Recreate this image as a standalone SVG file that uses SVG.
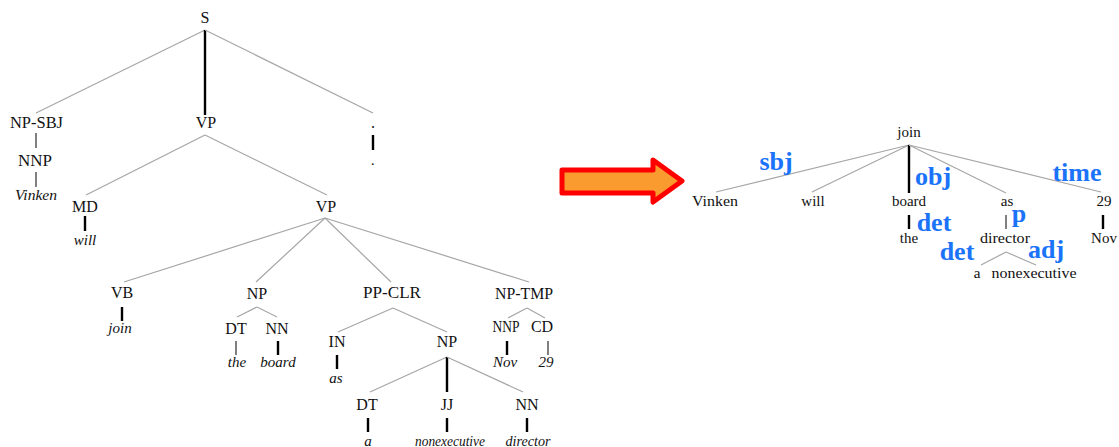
<svg xmlns="http://www.w3.org/2000/svg" width="1119" height="447" viewBox="0 0 1119 447">
<style>
text{font-family:"Liberation Serif","Times New Roman",serif;fill:#111;text-anchor:middle}
.c{font-size:16px}
.w{font-size:15px;font-style:italic}
.r{font-size:15px}
.rel{font-size:26px;font-weight:bold;fill:#1a73f8}
.d{stroke:#a6a6a6;stroke-width:1.2;fill:none}
.t{stroke:#000;stroke-width:2.4}
.n{stroke:#000;stroke-width:1}
</style>
<rect width="1119" height="447" fill="#fff"/>
<g id="connectors">
<!-- left tree -->
<line class="d" x1="205" y1="30" x2="36" y2="113"/>
<line class="t" x1="205" y1="30" x2="205" y2="115"/>
<line class="d" x1="205" y1="30" x2="373" y2="113"/>
<line class="t" x1="373" y1="135" x2="373" y2="150"/>
<line class="n" x1="36" y1="133" x2="36" y2="148"/>
<line class="n" x1="36" y1="172" x2="36" y2="187"/>
<line class="d" x1="205" y1="135" x2="86" y2="195"/>
<line class="d" x1="205" y1="135" x2="327" y2="195"/>
<line class="t" x1="85" y1="216" x2="85" y2="231"/>
<line class="d" x1="325" y1="218" x2="124" y2="282"/>
<line class="d" x1="325" y1="218" x2="256" y2="282"/>
<line class="d" x1="325" y1="218" x2="391" y2="282"/>
<line class="d" x1="325" y1="218" x2="529" y2="282"/>
<line class="t" x1="122" y1="307" x2="122" y2="321"/>
<line class="d" x1="257" y1="307" x2="237" y2="317"/>
<line class="d" x1="257" y1="307" x2="277" y2="317"/>
<line class="n" x1="236" y1="341" x2="236" y2="355"/>
<line class="t" x1="278" y1="341" x2="278" y2="355"/>
<line class="d" x1="393" y1="308" x2="338" y2="332"/>
<line class="d" x1="393" y1="308" x2="447" y2="332"/>
<line class="t" x1="337" y1="355" x2="337" y2="369"/>
<line class="d" x1="447" y1="357" x2="370" y2="392"/>
<line class="t" x1="447" y1="357" x2="447" y2="392"/>
<line class="d" x1="447" y1="357" x2="523" y2="392"/>
<line class="t" x1="368" y1="418" x2="368" y2="432"/>
<line class="t" x1="447" y1="418" x2="447" y2="432"/>
<line class="t" x1="527" y1="418" x2="527" y2="432"/>
<line class="d" x1="527" y1="308" x2="508" y2="318"/>
<line class="d" x1="527" y1="308" x2="545" y2="318"/>
<line class="t" x1="507" y1="341" x2="507" y2="355"/>
<line class="n" x1="548" y1="341" x2="548" y2="355"/>
<!-- right tree -->
<line class="d" x1="909" y1="145" x2="716" y2="192"/>
<line class="d" x1="909" y1="145" x2="812" y2="192"/>
<line class="t" x1="909" y1="145" x2="909" y2="193"/>
<line class="d" x1="909" y1="145" x2="1006" y2="193"/>
<line class="d" x1="909" y1="145" x2="1101" y2="192"/>
<line class="t" x1="909" y1="215" x2="909" y2="229"/>
<line class="n" x1="1006" y1="215" x2="1006" y2="229"/>
<line class="t" x1="1103" y1="215" x2="1103" y2="229"/>
<line class="d" x1="1006" y1="252" x2="981" y2="265"/>
<line class="d" x1="1006" y1="252" x2="1036" y2="265"/>
</g>
<g id="arrow">
<polygon points="562,170 653,170 653,160 682,181 653,202 653,193 562,193" fill="#f99b2f" stroke="#ff0000" stroke-width="5" stroke-linejoin="round"/>
</g>
<!-- left tree nodes -->
<g id="S"><text class="c" x="205" y="23">S</text></g>
<g id="NP-SBJ"><text class="c" x="36.5" y="128" textLength="53" lengthAdjust="spacingAndGlyphs">NP-SBJ</text></g>
<g id="VP1"><text class="c" x="206" y="128">VP</text></g>
<g id="PUNCT"><text class="c" x="373" y="128">.</text></g>
<g id="PUNCT-leaf"><text class="w" x="373" y="165">.</text></g>
<g id="NNP1"><text class="c" x="35" y="166" textLength="34" lengthAdjust="spacingAndGlyphs">NNP</text></g>
<g id="Vinken1"><text class="w" x="36" y="200" textLength="42" lengthAdjust="spacingAndGlyphs">Vinken</text></g>
<g id="MD"><text class="c" x="85" y="212">MD</text></g>
<g id="will1"><text class="w" x="85" y="245">will</text></g>
<g id="VP2"><text class="c" x="326" y="212">VP</text></g>
<g id="VB"><text class="c" x="122" y="298">VB</text></g>
<g id="join1"><text class="w" x="120" y="333">join</text></g>
<g id="NP1"><text class="c" x="257" y="299">NP</text></g>
<g id="DT1"><text class="c" x="236" y="334">DT</text></g>
<g id="NN1"><text class="c" x="277" y="334">NN</text></g>
<g id="the1"><text class="w" x="237" y="367">the</text></g>
<g id="board1"><text class="w" x="278" y="367">board</text></g>
<g id="PP-CLR"><text class="c" x="392" y="298" textLength="58" lengthAdjust="spacingAndGlyphs">PP-CLR</text></g>
<g id="IN"><text class="c" x="337" y="347">IN</text></g>
<g id="as1"><text class="w" x="336" y="383">as</text></g>
<g id="NP2"><text class="c" x="447" y="347">NP</text></g>
<g id="DT2"><text class="c" x="367" y="410">DT</text></g>
<g id="JJ"><text class="c" x="447" y="410">JJ</text></g>
<g id="NN2"><text class="c" x="527" y="410">NN</text></g>
<g id="a1"><text class="w" x="368" y="446">a</text></g>
<g id="nonexecutive1"><text class="w" x="450" y="446" textLength="70" lengthAdjust="spacingAndGlyphs">nonexecutive</text></g>
<g id="director1"><text class="w" x="528" y="446" textLength="45" lengthAdjust="spacingAndGlyphs">director</text></g>
<g id="NP-TMP"><text class="c" x="524" y="299" textLength="58" lengthAdjust="spacingAndGlyphs">NP-TMP</text></g>
<g id="NNP2"><text class="c" x="506" y="332" textLength="27" lengthAdjust="spacingAndGlyphs">NNP</text></g>
<g id="CD"><text class="c" x="542" y="332">CD</text></g>
<g id="Nov1"><text class="w" x="505" y="367">Nov</text></g>
<g id="n29a"><text class="w" x="546" y="367">29</text></g>
<!-- right tree nodes -->
<g id="join2"><text class="r" x="909" y="137">join</text></g>
<g id="Vinken2"><text class="r" x="715" y="206" textLength="46" lengthAdjust="spacingAndGlyphs">Vinken</text></g>
<g id="will2"><text class="r" x="813" y="206">will</text></g>
<g id="board2"><text class="r" x="909" y="206">board</text></g>
<g id="as2"><text class="r" x="1007" y="206">as</text></g>
<g id="n29b"><text class="r" x="1104" y="206">29</text></g>
<g id="the2"><text class="r" x="909" y="243">the</text></g>
<g id="director2"><text class="r" x="1005" y="243" textLength="50" lengthAdjust="spacingAndGlyphs">director</text></g>
<g id="Nov2"><text class="r" x="1104" y="243">Nov</text></g>
<g id="a2"><text class="r" x="977" y="278">a</text></g>
<g id="nonexecutive2"><text class="r" x="1034" y="278" textLength="85" lengthAdjust="spacingAndGlyphs">nonexecutive</text></g>
<g id="relations">
<text class="rel" x="776" y="170">sbj</text>
<text class="rel" x="933" y="185">obj</text>
<text class="rel" x="1077" y="181">time</text>
<text class="rel" x="934" y="231">det</text>
<text class="rel" x="1019" y="222">p</text>
<text class="rel" x="957" y="260">det</text>
<text class="rel" x="1046" y="258">adj</text>
</g>
</svg>
